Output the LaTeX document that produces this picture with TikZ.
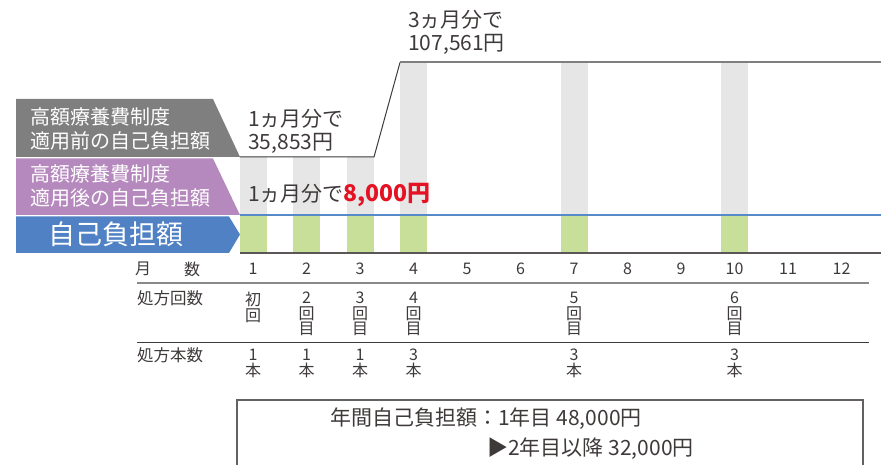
\documentclass[tikz,border=0pt]{standalone}
\usepackage{fontspec}
\setmainfont{Noto Sans CJK JP}
\usetikzlibrary{positioning}
\definecolor{textgray}{RGB}{62,58,57}
\definecolor{taggray}{RGB}{127,127,127}
\definecolor{tagpurple}{RGB}{182,137,190}
\definecolor{tagblue}{RGB}{79,129,196}
\definecolor{lineblue}{RGB}{88,137,201}
\definecolor{bargray}{RGB}{230,230,230}
\definecolor{bargreen}{RGB}{200,223,154}
\definecolor{amountred}{RGB}{228,18,34}

\begin{document}
\begin{tikzpicture}[x=1pt, y=-1pt,
    tagtext/.style={text=white, font=\fontsize{20}{24}\selectfont, align=left, anchor=west, inner sep=0pt},
    note/.style={text=textgray, font=\fontsize{21}{23}\selectfont, align=left, anchor=west, inner sep=0pt},
    month/.style={text=textgray, font=\fontsize{16}{16}\selectfont, inner sep=0pt},
    rowhead/.style={text=textgray, font=\fontsize{16.5}{16}\selectfont, anchor=west, inner sep=0pt},
    cell/.style={text=textgray, font=\fontsize{16}{15.5}\selectfont, align=center, anchor=north, inner sep=0pt},
    summary/.style={text=textgray, font=\fontsize{21}{24}\selectfont, anchor=west, inner sep=0pt},
    graybar/.style={fill=bargray},
    greenbar/.style={fill=bargreen}
  ]
    \useasboundingbox (0,0) rectangle (881,465);

    % bars
    \fill[graybar] (239.5,157) rectangle (266.5,215);
    \fill[graybar] (293,157) rectangle (320,215);
    \fill[graybar] (346.5,157) rectangle (373.5,215);
    \fill[graybar] (400,62) rectangle (427,215);
    \fill[graybar] (560.5,62) rectangle (587.5,215);
    \fill[graybar] (721,62) rectangle (748,215);
    \fill[greenbar] (239.5,216) rectangle (266.5,252);
    \fill[greenbar] (293,216) rectangle (320,252);
    \fill[greenbar] (346.5,216) rectangle (373.5,252);
    \fill[greenbar] (400,216) rectangle (427,252);
    \fill[greenbar] (560.5,216) rectangle (587.5,252);
    \fill[greenbar] (721,216) rectangle (748,252);

    \draw[line width=2.2pt, lineblue] (239.5,215) -- (881,215);
    \draw[line width=1.5pt, textgray!85] (239.5,253) -- (881,253);
    \draw[line width=1pt, textgray] (239.5,157) -- (374,157) -- (400,62.5);
    \draw[line width=2pt, taggray] (400,62.5) -- (881,62.5);

    % tags
    \fill[taggray] (16,99) -- (213,99) -- (240,157) -- (16,157) -- cycle;
    \fill[tagpurple] (16,158.5) -- (213,158.5) -- (240,215) -- (16,215) -- cycle;
    \fill[tagblue] (16,216.5) -- (229,216.5) -- (240,234.5) -- (229,253) -- (16,253) -- cycle;
    \node[tagtext] (before) at (30,129) {高額療養費制度\\適用前の自己負担額};
    \node[tagtext] (after) at (30,186) {高額療養費制度\\適用後の自己負担額};
    \node[text=white, font=\fontsize{27}{27}\selectfont, inner sep=0pt] (own) at (116,234) {自己負担額};

    % amounts
    \node[note] (monthly) at (248,131) {1ヵ月分で\\35,853円};
    \node[note] (quarterly) at (408,32) {3ヵ月分で\\107,561円};
    \node[note] (capped) at (248,195) {1ヵ月分で{\color{amountred}\bfseries\fontsize{23}{23}\selectfont 8,000円}};

    % table
    \node[month] (mlabel) at (143,269) {月};
    \node[month] (nlabel) at (192,269) {数};
    \node[month] (m1) at (253,269) {1};
    \node[month] (m2) at (306.5,269) {2};
    \node[month] (m3) at (360,269) {3};
    \node[month] (m4) at (413.5,269) {4};
    \node[month] (m5) at (467,269) {5};
    \node[month] (m6) at (520.5,269) {6};
    \node[month] (m7) at (574,269) {7};
    \node[month] (m8) at (627.5,269) {8};
    \node[month] (m9) at (681,269) {9};
    \node[month] (m10) at (734.5,269) {10};
    \node[month] (m11) at (788,269) {11};
    \node[month] (m12) at (841.5,269) {12};
    \draw[line width=1.2pt, textgray!60] (137,283) -- (869,283);

    \node[rowhead] (visits) at (137,298) {処方回数};
    \node[cell] (v1) at (253,292) {初\\回};
    \node[cell] (v2) at (306.5,292) {2\\回\\目};
    \node[cell] (v3) at (360,292) {3\\回\\目};
    \node[cell] (v4) at (413.5,292) {4\\回\\目};
    \node[cell] (v5) at (574,292) {5\\回\\目};
    \node[cell] (v6) at (734.5,292) {6\\回\\目};
    \draw[line width=1pt, textgray] (137,342) -- (869,342);

    \node[rowhead] (doses) at (137,355) {処方本数};
    \node[cell] (d1) at (253,349) {1\\本};
    \node[cell] (d2) at (306.5,349) {1\\本};
    \node[cell] (d3) at (360,349) {1\\本};
    \node[cell] (d4) at (413.5,349) {3\\本};
    \node[cell] (d5) at (574,349) {3\\本};
    \node[cell] (d6) at (734.5,349) {3\\本};

    % yearly total
    \draw[line width=1.2pt, textgray!80] (237,470) -- (237,400) -- (863,400) -- (863,470);
    \node[summary] (year1) at (330,419) {年間自己負担額：1年目 48,000円};
    \node[summary] (year2) at (487,449) {▶2年目以降 32,000円};
  \end{tikzpicture}
\end{document}
